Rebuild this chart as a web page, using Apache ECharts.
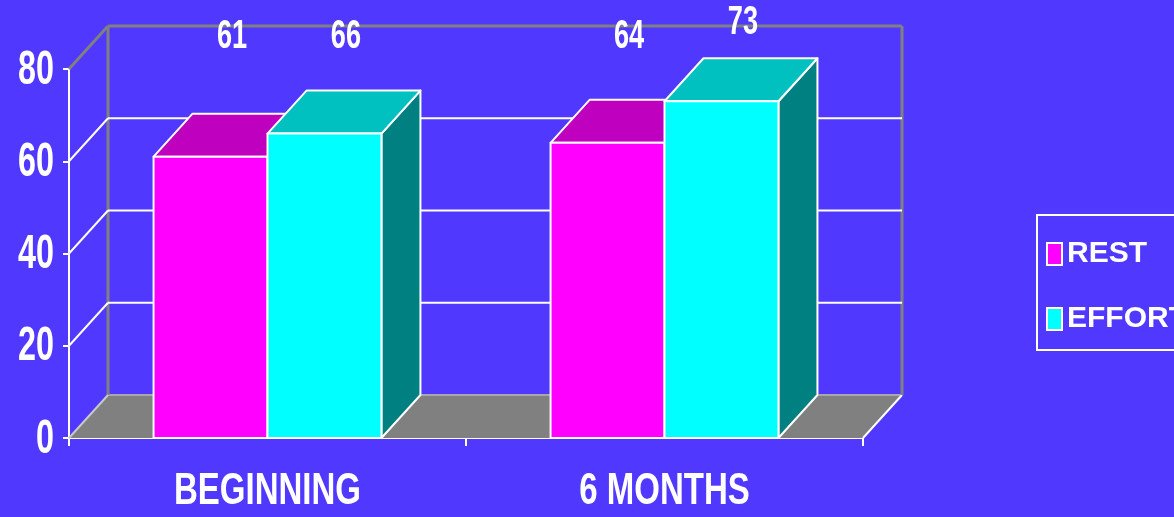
<!DOCTYPE html>
<html>
<head>
<meta charset="utf-8">
<script src="https://cdn.jsdelivr.net/npm/echarts@6/dist/echarts.min.js"></script>
<style>
html, body { margin: 0; padding: 0; background: #5038ff; }
#chart { width: 1174px; height: 517px; }
</style>
</head>
<body>
<div id="chart"></div>
<script>
const categories = ['BEGINNING', '6 MONTHS'];
const restValues = [61, 64];
const effortValues = [66, 73];
const yTicks = [0, 20, 40, 60, 80];

const FONT = '"Liberation Sans", Arial, sans-serif';
// depth of the fake 3d box, in px
const DX = 39, DY = -43;
const BAR_FRAC = 0.287;
// the original uses a very narrow bold face, squeeze the text horizontally
const SQUEEZE = 0.68;

var chart = echarts.init(document.getElementById('chart'));

// back wall, left wall, floor and the value labels
function renderFrame(params, api) {
  var cs = params.coordSys;
  var v = api.value(1);
  var y = api.coord([0, v])[1];
  var x0 = cs.x, x1 = cs.x + cs.width;
  var isTop = v === yTicks[yTicks.length - 1];
  var children = [];
  if (v === 0) {
    var yTop = api.coord([0, yTicks[yTicks.length - 1]])[1];
    children.push({ type: 'polygon', shape: { points: [[x0, y], [x1, y], [x1 + DX, y + DY], [x0 + DX, y + DY]] },
      style: { fill: '#808080' } });
    children.push({ type: 'line', shape: { x1: x0 + DX, y1: y + DY, x2: x1 + DX, y2: y + DY },
      style: { stroke: '#a8a8a8', lineWidth: 2 } });
    children.push({ type: 'line', shape: { x1: x1, y1: y, x2: x1 + DX, y2: y + DY },
      style: { stroke: '#fff', lineWidth: 2 } });
    children.push({ type: 'line', shape: { x1: x0 + DX, y1: y + DY, x2: x0 + DX, y2: yTop + DY },
      style: { stroke: '#808080', lineWidth: 3 } });
    children.push({ type: 'line', shape: { x1: x1 + DX, y1: y + DY, x2: x1 + DX, y2: yTop + DY },
      style: { stroke: '#808080', lineWidth: 3 } });
  } else {
    children.push({ type: 'line', shape: { x1: x0 + DX, y1: y + DY, x2: x1 + DX, y2: y + DY },
      style: { stroke: isTop ? '#808080' : '#fff', lineWidth: isTop ? 3 : 2 } });
  }
  children.push({ type: 'line', shape: { x1: x0, y1: y, x2: x0 + DX, y2: y + DY },
    style: { stroke: isTop ? '#808080' : (v === 0 ? '#c8c8c8' : '#fff'), lineWidth: isTop ? 3 : 2 } });
  // tick label
  children.push({ type: 'text', x: x0 - 15, y: y + 1, scaleX: 0.66,
    style: { text: String(v), fill: '#fff', font: 'bold 49px ' + FONT, align: 'right', verticalAlign: 'middle' } });
  return { type: 'group', children: children };
}

function renderCategory(params, api) {
  var p = api.coord([api.value(0), 0]);
  return { type: 'text', x: p[0], y: p[1] + 54, scaleX: 0.75,
    style: { text: categories[params.dataIndex], fill: '#fff', font: 'bold 44px ' + FONT, align: 'center', verticalAlign: 'middle' } };
}

function barRenderer(left, front, top, side) {
  return function (params, api) {
    var v = api.value(1);
    var c = api.coord([api.value(0), v]);
    var yb = api.coord([api.value(0), 0])[1];
    var bw = api.size([1, 0])[0] * BAR_FRAC;
    var xl = left ? c[0] - bw : c[0];
    var xr = xl + bw;
    var yt = c[1];
    var edge = { stroke: '#fff', lineWidth: 2, lineJoin: 'round' };
    var labelY = api.coord([0, Math.max(87, v + 17)])[1];
    return {
      type: 'group',
      children: [
        { type: 'polygon', shape: { points: [[xr, yt], [xr + DX, yt + DY], [xr + DX, yb + DY], [xr, yb]] },
          style: Object.assign({ fill: side }, edge) },
        { type: 'polygon', shape: { points: [[xl, yt], [xl + DX, yt + DY], [xr + DX, yt + DY], [xr, yt]] },
          style: Object.assign({ fill: top }, edge) },
        { type: 'rect', shape: { x: xl, y: yt, width: bw, height: yb - yt },
          style: Object.assign({ fill: front }, edge) },
        { type: 'text', x: (xl + xr) / 2 + DX / 2 + 2, y: labelY, scaleX: SQUEEZE,
          style: { text: String(v), fill: '#fff', font: 'bold 40px ' + FONT, align: 'center', verticalAlign: 'middle' } }
      ]
    };
  };
}

var option = {
  backgroundColor: '#5038ff',
  animation: false,
  grid: { left: 69, right: 311, top: 69, bottom: 79 },
  legend: {
    orient: 'vertical',
    left: 1037,
    top: 215,
    icon: 'rect',
    itemWidth: 15,
    itemHeight: 22,
    itemGap: 35,
    borderColor: '#fff',
    borderWidth: 2,
    padding: [24, 40, 16, 9],
    itemStyle: { borderColor: '#fff', borderWidth: 2 },
    textStyle: { color: '#fff', fontFamily: FONT, fontWeight: 'bold', fontSize: 30 },
    data: ['REST', 'EFFORT']
  },
  xAxis: {
    type: 'category',
    data: categories,
    axisLine: { lineStyle: { color: '#fff', width: 2 } },
    axisTick: { show: true, length: 8, lineStyle: { color: '#fff', width: 2 } },
    axisLabel: { show: false },
    splitLine: { show: false }
  },
  yAxis: {
    type: 'value',
    min: 0,
    max: 80,
    interval: 20,
    axisLine: { show: true, lineStyle: { color: '#fff', width: 2 } },
    axisTick: { show: true, length: 6, lineStyle: { color: '#fff', width: 2 } },
    axisLabel: { show: false },
    splitLine: { show: false }
  },
  series: [
    {
      name: 'frame',
      type: 'custom',
      z: 1,
      silent: true,
      renderItem: renderFrame,
      data: yTicks.map(function (t) { return [0, t]; })
    },
    {
      name: 'categories',
      type: 'custom',
      z: 1,
      silent: true,
      renderItem: renderCategory,
      data: categories.map(function (c, i) { return [i, 0]; })
    },
    {
      name: 'REST',
      type: 'custom',
      z: 2,
      itemStyle: { color: '#ff00ff' },
      renderItem: barRenderer(true, '#ff00ff', '#bf00bf', '#800080'),
      data: restValues.map(function (v, i) { return [i, v]; })
    },
    {
      name: 'EFFORT',
      type: 'custom',
      z: 3,
      itemStyle: { color: '#00ffff' },
      renderItem: barRenderer(false, '#00ffff', '#00c0c0', '#008080'),
      data: effortValues.map(function (v, i) { return [i, v]; })
    }
  ]
};

chart.setOption(option);
</script>
</body>
</html>
